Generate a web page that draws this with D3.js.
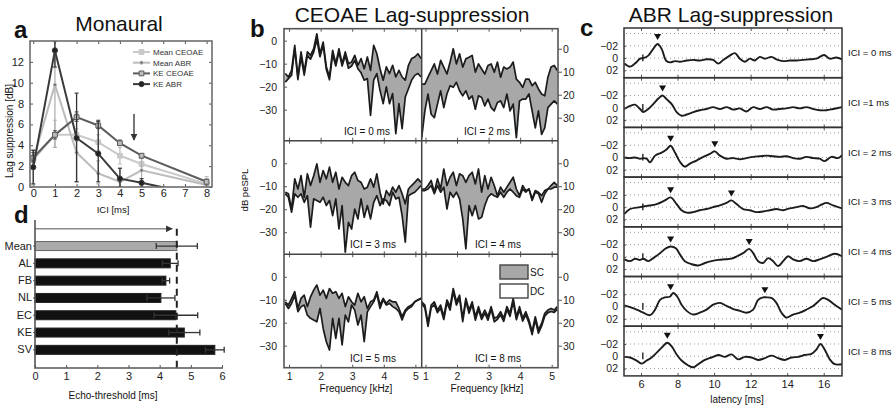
<!DOCTYPE html>
<html lang="en">
<head>
<meta charset="utf-8">
<title>Lag suppression</title>
<script src="https://d3js.org/d3.v7.min.js"></script>
<style>
body { margin: 0; background: #ffffff; }
svg { display: block; }
</style>
</head>
<body>
<div id="container"></div>
<script>
// ---------------- data: panel a (Monaural) ----------------
var iciMs = [0, 1, 2, 3, 4, 5, 8];
var meanCeoae   = [2.6, 5.0, 5.0, 4.3, 3.0, 2.2, 0.3];
var meanCeoaeLo = [2.0, 3.8, 4.4, 3.5, 2.2, 1.5, 0.0];
var meanCeoaeHi = [3.6, 6.4, 5.6, 5.0, 3.8, 2.8, 1.0];
var meanAbr     = [2.6, 9.8, 3.3, 1.3, 0.5, 1.6, 0.2];
var meanAbrLo   = [0.2, 3.8, 0.5, 0.3, 0.0, 0.3, 0.0];
var meanAbrHi   = [3.6, 14.0, 7.0, 2.5, 1.8, 2.8, 0.8];
var keCeoae     = [2.8, 5.0, 6.7, 5.9, 4.2, 3.0, 0.5];
var keCeoaeLo   = [2.4, 4.6, 6.3, 5.6, 4.0, 2.8, 0.3];
var keCeoaeHi   = [3.3, 5.4, 7.2, 6.4, 4.5, 3.2, 0.7];
var keAbr       = [1.9, 13.1, 4.7, 3.2, 0.8, 0.4, -0.9];
var keAbrLo     = [0.3, 11.5, 0.5, 0.5, 0.0, 0.0, null];
var keAbrHi     = [3.5, 14.0, 9.0, 6.3, 1.8, 0.8, null];
var arrowIci = 4.65, arrowFrom = 7.0, arrowTo = 4.5;

// ---------------- data: panel d (echo threshold) ----------------
var subjects = ["Mean", "AL", "FB", "NL", "EC", "KE", "SV"];
var echoThreshold = [4.55, 4.34, 4.2, 4.04, 4.52, 4.79, 5.77];
var echoErr       = [0.66, 0.25, 0.12, 0.45, 0.7, 0.5, 0.3];
var echoArrowEnd = 4.4;

// ---------------- data: panel b (CEOAE, dB peSPL) ----------------
var ceoaeFreq = [0.88,0.98,1.08,1.18,1.28,1.38,1.48,1.58,1.68,1.78,1.88,1.98,2.08,2.18,2.28,2.38,2.48,2.58,2.68,2.78,2.88,2.98,
                 3.08,3.18,3.28,3.38,3.48,3.58,3.68,3.78,3.88,3.98,4.08,4.18,4.28,4.38,4.48,4.58,4.68,4.78,4.88,4.98,5.08,5.18];
var scIci0 = [-14.3,-15.8,-12.9,-2,-15.8,-4.9,-13.6,-4.9,-6.4,-3.5,3,-5.7,-0.6,-11.4,-15.8,-4.2,-10,-3.5,-10,-4.9,-10,-9.3,
              -6.4,-10.7,-7.8,-12.2,-7.1,-12.9,-2,-5.7,-12.2,-17.2,-11.4,-14.3,-10.7,-15.8,-12.9,-15.8,-17.2,-10.7,-7.8,-7.1,-5.7,-7.8];
var dcIci0 = [-18,-16.5,-15,-3.5,-17,-7,-15,-6.5,-8,-5,0.5,-7,-2,-12.5,-17,-6,-11,-5,-11,-6.5,-12,-11,
              -8.6,-12.2,-14,-17.2,-16.5,-32.5,-17.2,-14.3,-21.6,-27.4,-20.1,-27.4,-23,-40.4,-27.4,-38.3,-24.5,-20.9,-17.2,-15.1,-14.3,-15.8];
var scIci2 = [-15.4,-15.4,-12.4,-9.5,-6.6,-11,-5.1,-8,-11,-5.8,0,-6.6,-2.2,-8,-4.4,-3.7,-2.9,-10.2,-6.6,-8.8,-11,-7.3,
              -6.6,-10.2,-5.8,-12.4,-8,-8.8,-8,-5.8,-13.2,-14.6,-16.8,-13.2,-13.2,-16.1,-14.6,-17.5,-19.7,-20.5,-12.4,-8,-7.3,-9.5];
var dcIci2 = [-38.7,-27,-19.7,-28.5,-30,-24.1,-18.3,-25.6,-19.7,-16.1,-16.8,-14.6,-18.3,-20.5,-18.3,-21.9,-20.5,-26.3,-20.5,-21.2,-24.9,-21.9,
              -25.6,-27,-23.4,-22.7,-25.6,-19.7,-27,-24.1,-38.7,-22.7,-21.9,-21.9,-19.7,-27,-34.4,-27,-37.3,-34.4,-25.6,-24.1,-22.7,-24.1];
var scIci3 = [-12.6,-13.3,-19.9,-6.8,-11.2,-5.4,-14.8,-4.6,-9.7,-5.4,-0.3,-8.3,-3.2,-6.8,-1.7,-8.3,-3.9,-11.2,-6.1,-8.3,-9.7,-5.4,
              -3.9,-7.5,-8.3,-11.2,-10.4,-6.8,-10.4,-4.6,-12.6,-17.7,-11.9,-14.1,-10.4,-12.6,-9.7,-13.3,-17.7,-11.2,-9.7,-8.3,-6.8,-8.3];
var dcIci3 = [-13.3,-14.8,-21.3,-13.3,-14.8,-13.3,-17,-14.1,-27.8,-15.5,-16.2,-17,-14.8,-18.4,-16.2,-22.8,-15.5,-28.6,-18.4,-38.7,-25.7,-28.6,
              -19.9,-24.2,-15.5,-23.5,-18.4,-24.2,-17,-14.1,-18.4,-15.5,-16.2,-18.4,-12.6,-15.5,-14.8,-22.8,-34.3,-14.1,-13.3,-12.6,-11.2,-9.7];
var scIci4 = [-11.2,-11.2,-9.7,-7.5,-12.6,-6.8,-11.2,-2.5,-9.7,-6.1,-3.9,-9.7,-4.6,-5.4,-8.3,-5.4,-3.9,-9,-2.5,-12.6,-5.4,-11.2,
              -6.1,-9.7,-14.1,-10.4,-12.6,-10.4,-8.3,-6.1,-11.2,-14.1,-9.7,-11.9,-11.2,-15.5,-11.9,-12.6,-14.1,-11.9,-11.2,-9.7,-8.3,-9.7];
var dcIci4 = [-11.9,-11.9,-11.2,-9.7,-13.3,-9.7,-12.6,-10.4,-19.9,-12.6,-14.8,-12.6,-15.5,-24.2,-37.2,-18.4,-22.8,-18.4,-24.2,-23.5,-18.4,-14.8,
              -13.3,-14.1,-14.8,-12.6,-14.8,-12.6,-11.2,-12.6,-14.1,-14.8,-11.2,-12.6,-11.2,-16.2,-12.6,-13.3,-17,-13.3,-11.2,-11.2,-10.4,-10.4];
var scIci5 = [-10.9,-12.3,-9.4,-6.5,-13.8,-9.4,-8,-13,-8.7,-5.8,-3.6,-8,-5.8,-9.4,-5.1,-7.2,-6.5,-9.4,-7.2,-13,-8.7,-10.9,
              -12.3,-7.2,-10.9,-8.7,-13.8,-10.9,-10.1,-6.5,-12.3,-9.4,-11.6,-10.1,-10.9,-10.9,-13.8,-17.4,-14.5,-13,-12.3,-10.9,-10.1,-9.4];
var dcIci5 = [-11.6,-13.8,-11.6,-8,-15.2,-13,-12.3,-16.7,-18.1,-18.8,-19.6,-13.8,-22.5,-28.3,-31.9,-18.1,-26.8,-18.1,-29.7,-16.7,-19.6,-12.3,
              -14.5,-21,-16.7,-28.3,-15.2,-13,-10.9,-7.5,-13.8,-10,-12.3,-11.6,-13,-13.8,-15.2,-18.8,-15.2,-13.8,-13,-10.9,-10.1,-9.4];
var scIci8 = [-10.9,-12.3,-20.3,-12.3,-10.9,-14.5,-12.3,-17.4,-10.1,-13,-5.1,-10.9,-8,-18.1,-9.4,-14.5,-10.9,-17.4,-13,-17.4,-14.5,-17.4,
              -13,-18.1,-17.4,-15.2,-18.1,-13,-15.9,-9.4,-17.4,-13,-18.1,-15.2,-18.8,-23.9,-17.4,-23.2,-20.3,-15.9,-14.5,-13.8,-14.5,-13];
var dcIci8 = [-11.8,-13.5,-21.6,-13.4,-12.2,-15.6,-13.7,-18.6,-11.3,-14.5,-6.4,-12.3,-9.2,-19.5,-10.6,-15.9,-12.1,-18.9,-14.2,-18.6,-15.8,-18.9,
              -14.1,-19.6,-18.5,-16.6,-19.4,-14.3,-17.2,-10.8,-18.7,-14.4,-19.3,-16.5,-20.1,-25.2,-18.6,-24.6,-21.5,-17.2,-15.6,-15.1,-15.5,-14.2];

// ---------------- data: panel c (ABR, [latency ms, amplitude]) ----------------
var abrIci0 = [[5.09,0.09],[5.40,0.14],[5.67,0.09],[5.95,0.01],[6.13,0.0],[6.40,-0.04],[6.67,-0.15],[6.91,-0.23],[7.13,-0.15],[7.37,0.04],
  [7.58,0.07],[7.86,0.05],[8.13,0.06],[8.50,0.04],[8.86,0.03],[9.22,0.04],[9.59,0.02],[9.95,0.03],[10.23,0.09],[10.50,0.03],[10.86,-0.04],
  [11.14,-0.08],[11.41,0.01],[11.68,0.06],[11.96,0.01],[12.23,0.04],[12.50,-0.02],[12.78,0.01],[13.14,-0.02],[13.41,0.02],[13.78,0.05],
  [14.14,0.04],[14.51,0.04],[14.87,0.03],[15.24,0.02],[15.60,0.01],[16.02,-0.05],[16.33,0.01],[16.69,-0.01],[17.0,0.02]];
var abrIci1 = [[5.09,0.02],[5.40,-0.03],[5.67,-0.05],[5.95,0.02],[6.13,0.07],[6.40,0.02],[6.67,-0.06],[6.95,-0.15],[7.18,-0.2],[7.40,-0.14],
  [7.68,-0.06],[7.95,0.07],[8.22,0.13],[8.50,0.11],[8.86,0.07],[9.22,0.04],[9.59,0.02],[9.95,-0.01],[10.32,0.02],[10.68,-0.01],[11.05,0.03],
  [11.41,0.01],[11.77,0.06],[12.14,-0.01],[12.50,0.02],[12.87,-0.01],[13.23,0.03],[13.60,0.02],[13.96,0.01],[14.32,-0.01],[14.69,0.01],
  [15.05,-0.01],[15.42,0.02],[15.78,0.04],[16.15,0.04],[16.51,0.02],[17.0,-0.01]];
var abrIci2 = [[5.09,0],[5.40,0.01],[5.67,0],[5.95,0.02],[6.13,0.01],[6.31,0.02],[6.49,0.08],[6.77,-0.03],[7.13,-0.08],[7.40,-0.13],
  [7.62,-0.19],[7.86,-0.08],[8.13,0.07],[8.40,0.15],[8.68,0.10],[9.04,0.05],[9.41,-0.01],[9.77,-0.06],[10.04,-0.10],[10.32,-0.03],[10.68,0.02],
  [11.05,0.01],[11.41,0.03],[11.77,0.01],[12.14,-0.01],[12.50,-0.02],[12.87,-0.03],[13.23,-0.02],[13.60,-0.01],[13.96,-0.02],[14.32,0.01],
  [14.69,0.02],[15.05,-0.01],[15.42,0.01],[15.78,0.02],[16.05,0.06],[16.42,-0.01],[16.78,0.01],[17.0,-0.04]];
var abrIci3 = [[5.09,0.11],[5.40,0.03],[5.95,0],[6.31,-0.02],[6.86,-0.05],[7.31,-0.11],[7.62,-0.16],[7.95,-0.05],[8.22,0.05],[8.50,0.09],
  [8.86,0.08],[9.22,0.05],[9.59,0.03],[9.95,0],[10.32,-0.03],[10.68,-0.07],[10.95,-0.11],[11.23,-0.05],[11.59,0.03],[11.96,0.05],[12.32,0.08],
  [12.68,0.07],[13.05,0.05],[13.41,0.03],[13.78,0.05],[14.14,0.02],[14.51,0],[14.87,-0.02],[15.24,0.02],[15.60,0],[15.87,-0.04],[16.15,-0.07],
  [16.51,-0.03],[17.0,0.02]];
var abrIci4 = [[5.09,0.04],[5.40,0.07],[5.67,0.03],[5.95,0.05],[6.13,0.03],[6.40,0.07],[6.67,0.02],[7.04,-0.06],[7.37,-0.14],[7.62,-0.17],
  [7.91,-0.14],[8.13,-0.04],[8.40,0.07],[8.77,0.12],[9.13,0.14],[9.50,0.10],[9.86,0.07],[10.23,0.05],[10.59,0.04],[10.95,0.03],[11.32,-0.02],
  [11.59,-0.06],[11.92,-0.13],[12.14,-0.06],[12.41,0.07],[12.68,0.10],[12.96,0.02],[13.23,0.07],[13.50,0.15],[13.78,0.07],[14.05,-0.01],
  [14.32,0.04],[14.69,0.07],[15.05,0.03],[15.42,0.07],[15.78,0.04],[16.15,0],[16.60,-0.05],[17.0,-0.01]];
var abrIci5 = [[5.09,-0.02],[5.40,0.01],[5.76,0.05],[6.13,0.10],[6.49,0.14],[6.77,0.05],[7.04,-0.11],[7.31,-0.15],[7.58,-0.16],[7.77,-0.22],
  [7.99,-0.16],[8.22,-0.03],[8.50,0.07],[8.86,0.13],[9.22,0.10],[9.59,0.05],[9.95,-0.03],[10.32,-0.06],[10.68,-0.01],[11.05,0.04],[11.41,0.07],
  [11.77,0.10],[12.14,0.05],[12.41,-0.11],[12.68,-0.15],[12.87,-0.15],[13.14,-0.14],[13.41,-0.06],[13.69,0.10],[13.96,0.18],[14.32,0.13],
  [14.69,0.10],[15.05,0.05],[15.42,-0.01],[15.69,-0.08],[15.96,-0.14],[16.24,-0.11],[16.60,-0.03],[17.0,0.05]];
var abrIci8 = [[5.09,0.01],[5.40,0.02],[5.76,0.07],[6.04,0.12],[6.31,0.07],[6.58,0.02],[6.86,-0.06],[7.13,-0.14],[7.44,-0.22],[7.68,-0.16],
  [7.95,-0.03],[8.22,0.07],[8.59,0.15],[8.86,0.18],[9.13,0.13],[9.50,0.06],[9.86,0.02],[10.23,-0.02],[10.59,0.01],[10.95,-0.03],[11.32,0.05],
  [11.68,0.01],[12.05,0.02],[12.41,0.06],[12.78,0.03],[13.14,-0.01],[13.50,0.03],[13.87,0.06],[14.23,0.02],[14.60,0.01],[14.96,-0.02],
  [15.33,-0.04],[15.60,-0.11],[15.82,-0.2],[16.05,-0.11],[16.33,0.05],[16.60,0.13],[17.0,0.13]];
var abrPeaks = [[[6.91,-0.23]], [[7.18,-0.2]], [[7.62,-0.19],[10.04,-0.1]], [[7.62,-0.16],[10.95,-0.11]],
                [[7.62,-0.17],[11.92,-0.13]], [[7.62,-0.2],[12.78,-0.15]], [[7.44,-0.22],[15.82,-0.2]]];
var abrLabels = ["ICI = 0 ms", "ICI =1 ms", "ICI = 2 ms", "ICI = 3 ms", "ICI = 4 ms", "ICI = 5 ms", "ICI = 8 ms"];
var abrClickLatency = 6.1;

// ---------------- drawing ----------------
var FONT = "'Liberation Sans', Arial, Helvetica, sans-serif";
var INK = "#222";
var svg = d3.select("#container").append("svg")
    .attr("width", 893).attr("height", 406)
    .attr("font-family", FONT)
    .style("background-color", "#ffffff");
var defs = svg.append("defs");
defs.append("marker").attr("id", "arrowHead")
    .attr("viewBox", "0 0 10 10").attr("refX", 9).attr("refY", 5)
    .attr("markerWidth", 4.5).attr("markerHeight", 4.5).attr("orient", "auto")
    .append("path").attr("d", "M0,0L10,5L0,10z").attr("fill", "#333");

function addClip(id, x, y, w, h) {
    defs.append("clipPath").attr("id", id).append("rect")
        .attr("x", x).attr("y", y).attr("width", w).attr("height", h);
    return "url(#" + id + ")";
}
function styleAxis(g, size) {
    g.attr("font-family", FONT).attr("font-size", size);
    g.select(".domain").remove();
    g.selectAll(".tick line").attr("stroke", "#555");
    g.selectAll(".tick text").attr("fill", INK);
}
function text(x, y, s, size, anchor, weight) {
    return svg.append("text").attr("x", x).attr("y", y).text(s)
        .attr("font-size", size).attr("text-anchor", anchor || "middle")
        .attr("font-weight", weight || "normal").attr("fill", "#111");
}

// titles and panel letters
text(119, 31, "Monaural", 21);
text(412, 22, "CEOAE Lag-suppression", 21);
text(731, 22, "ABR Lag-suppression", 21);
text(14, 38, "a", 24, "start", "bold");
text(250, 37, "b", 24, "start", "bold");
text(580, 36, "c", 24, "start", "bold");
text(14, 223, "d", 24, "start", "bold");

// ======== panel a ========
var ax = d3.scaleLinear().domain([-0.15, 8.25]).range([30, 212]);
var ay = d3.scaleLinear().domain([0, 14]).range([187, 41]);
var ga = svg.append("g");
var clipA = addClip("clipA", 30, 41, 182, 146);

ga.append("g").attr("transform", "translate(0,187)")
    .call(d3.axisBottom(ax).tickValues(d3.range(0, 9)).tickSizeInner(-3).tickSizeOuter(0).tickPadding(2))
    .call(styleAxis, 11);
ga.append("g").attr("transform", "translate(0,41)")
    .call(d3.axisTop(ax).tickValues(d3.range(0, 9)).tickSizeInner(-3).tickSizeOuter(0).tickFormat(""))
    .call(styleAxis, 11);
ga.append("g").attr("transform", "translate(30,0)")
    .call(d3.axisLeft(ay).tickValues(d3.range(0, 13, 2)).tickSizeInner(-3).tickSizeOuter(0).tickPadding(6))
    .call(styleAxis, 11);
ga.append("g").attr("transform", "translate(212,0)")
    .call(d3.axisRight(ay).tickValues(d3.range(0, 13, 2)).tickSizeInner(-3).tickSizeOuter(0).tickFormat(""))
    .call(styleAxis, 11);

var aSeries = [
    {name: "Mean CEOAE", v: meanCeoae, lo: meanCeoaeLo, hi: meanCeoaeHi, stroke: "#c9c9c9", err: "#c0c0c0", mark: "square", mfill: "#c9c9c9", r: 2.4},
    {name: "Mean ABR",   v: meanAbr,   lo: meanAbrLo,   hi: meanAbrHi,   stroke: "#bcbcbc", err: "#b0b0b0", mark: "circle", mfill: "#666", r: 1.6},
    {name: "KE CEOAE",   v: keCeoae,   lo: keCeoaeLo,   hi: keCeoaeHi,   stroke: "#5c5c5c", err: "#555",    mark: "square", mfill: "#bbb", r: 2.4},
    {name: "KE ABR",     v: keAbr,     lo: keAbrLo,     hi: keAbrHi,     stroke: "#3a3a3a", err: "#333",    mark: "circle", mfill: "#222", r: 2.6}
];
var plotA = ga.append("g").attr("clip-path", clipA);
aSeries.forEach(function(s) {
    var sg = plotA.append("g");
    iciMs.forEach(function(t, i) {
        if (s.lo[i] === null) return;
        sg.append("line").attr("x1", ax(t)).attr("x2", ax(t)).attr("y1", ay(s.lo[i])).attr("y2", ay(s.hi[i]))
            .attr("stroke", s.err).attr("stroke-width", 1.3);
        [s.lo[i], s.hi[i]].forEach(function(e) {
            sg.append("line").attr("x1", ax(t) - 2).attr("x2", ax(t) + 2).attr("y1", ay(e)).attr("y2", ay(e))
                .attr("stroke", s.err).attr("stroke-width", 1.1);
        });
    });
    sg.append("path").datum(s.v)
        .attr("d", d3.line().x(function(d, i) { return ax(iciMs[i]); }).y(function(d) { return ay(d); }))
        .attr("fill", "none").attr("stroke", s.stroke).attr("stroke-width", 2);
    sg.selectAll(".m").data(s.v).enter().append("path")
        .attr("transform", function(d, i) { return "translate(" + ax(iciMs[i]) + "," + ay(d) + ")"; })
        .attr("d", function() {
            var sym = s.mark === "square" ? d3.symbolSquare : d3.symbolCircle;
            return d3.symbol().type(sym).size(s.mark === "square" ? s.r * s.r * 4 : Math.PI * s.r * s.r)();
        })
        .attr("fill", s.mfill).attr("stroke", s.stroke).attr("stroke-width", 1);
});
ga.append("line").attr("x1", ax(arrowIci)).attr("x2", ax(arrowIci))
    .attr("y1", ay(arrowFrom)).attr("y2", ay(arrowTo))
    .attr("stroke", "#555").attr("stroke-width", 1.6).attr("marker-end", "url(#arrowHead)");
ga.append("rect").attr("x", 30).attr("y", 41).attr("width", 182).attr("height", 146)
    .attr("fill", "none").attr("stroke", "#6e6e6e").attr("stroke-width", 1.6);

// legend
aSeries.forEach(function(s, i) {
    var ly = 52 + i * 10.7;
    ga.append("line").attr("x1", 133).attr("x2", 150).attr("y1", ly).attr("y2", ly)
        .attr("stroke", s.stroke).attr("stroke-width", 2);
    ga.append("path").attr("transform", "translate(141.5," + ly + ")")
        .attr("d", d3.symbol().type(s.mark === "square" ? d3.symbolSquare : d3.symbolCircle)
            .size(s.mark === "square" ? s.r * s.r * 4 : Math.PI * s.r * s.r)())
        .attr("fill", s.mfill).attr("stroke", s.stroke);
    ga.append("text").attr("x", 153).attr("y", ly + 3).text(s.name)
        .attr("font-size", 8).attr("fill", "#333");
});
text(113, 213, "ICI [ms]", 9.5);
text(0, 0, "Lag suppression [dB]", 10).attr("transform", "translate(13,131) rotate(-90)");

// ======== panel d ========
var dx = d3.scaleLinear().domain([0, 6]).range([35, 222]);
var dy = d3.scaleBand().domain(subjects).range([237.4, 358.5]).paddingInner(0.48).paddingOuter(0.24);
var gd = svg.append("g");
gd.append("g").attr("transform", "translate(0,368)")
    .call(d3.axisBottom(dx).ticks(6).tickSizeInner(-3).tickSizeOuter(0).tickPadding(4))
    .call(styleAxis, 11);
gd.append("g").attr("transform", "translate(35,0)")
    .call(d3.axisLeft(dy).tickSizeInner(2).tickSizeOuter(0).tickPadding(1))
    .call(styleAxis, 11);
gd.selectAll("rect.bar").data(subjects).enter().append("rect")
    .attr("x", dx(0)).attr("y", function(d) { return dy(d); })
    .attr("width", function(d, i) { return dx(echoThreshold[i]) - dx(0); })
    .attr("height", dy.bandwidth())
    .attr("fill", function(d) { return d === "Mean" ? "#ababab" : "#111"; })
    .attr("stroke", function(d) { return d === "Mean" ? "#666" : "#222"; });
subjects.forEach(function(d, i) {
    var cyy = dy(d) + dy.bandwidth() / 2;
    var lo = echoThreshold[i] - echoErr[i], hi = echoThreshold[i] + echoErr[i];
    gd.append("line").attr("x1", dx(lo)).attr("x2", dx(hi)).attr("y1", cyy).attr("y2", cyy)
        .attr("stroke", "#333").attr("stroke-width", 1.3);
    [lo, hi].forEach(function(e) {
        gd.append("line").attr("x1", dx(e)).attr("x2", dx(e)).attr("y1", cyy - 3).attr("y2", cyy + 3)
            .attr("stroke", "#333").attr("stroke-width", 1.3);
    });
});
var arrowY = dy("Mean") + dy.bandwidth() / 2 - dy.step();
gd.append("line").attr("x1", dx(0)).attr("x2", dx(echoArrowEnd)).attr("y1", arrowY).attr("y2", arrowY)
    .attr("stroke", "#8a8a8a").attr("stroke-width", 1.5).attr("marker-end", "url(#arrowHead)");
gd.append("line").attr("x1", dx(echoThreshold[0])).attr("x2", dx(echoThreshold[0]))
    .attr("y1", arrowY).attr("y2", 368)
    .attr("stroke", "#222").attr("stroke-width", 2).attr("stroke-dasharray", "7,5");
gd.append("path").attr("d", "M35,220V368H223").attr("fill", "none").attr("stroke", "#555").attr("stroke-width", 1.6);
text(113, 399, "Echo-threshold [ms]", 10);

// ======== panel b ========
var bCols = [{x0: 284, x1: 421.7, dom: [0.84, 5.2]}, {x0: 421.7, x1: 558, dom: [0.88, 5.2]}];
var bRows = [[28.7, 140.7], [140.7, 254.3], [254.3, 367.7]];
var bPanels = [
    {label: "ICI = 0 ms", sc: scIci0, dc: dcIci0, col: 0, row: 0, yDom: [-43.5, 5.2], lx: 367},
    {label: "ICI = 2 ms", sc: scIci2, dc: dcIci2, col: 1, row: 0, yDom: [-40, 8.7], lx: 487},
    {label: "ICI = 3 ms", sc: scIci3, dc: dcIci3, col: 0, row: 1, yDom: [-39.6, 9.8], lx: 373},
    {label: "ICI = 4 ms", sc: scIci4, dc: dcIci4, col: 1, row: 1, yDom: [-39.6, 9.8], lx: 498},
    {label: "ICI = 5 ms", sc: scIci5, dc: dcIci5, col: 0, row: 2, yDom: [-39.6, 9.8], lx: 373},
    {label: "ICI = 8 ms", sc: scIci8, dc: dcIci8, col: 1, row: 2, yDom: [-39.6, 9.8], lx: 498}
];
var gb = svg.append("g");
bPanels.forEach(function(p, n) {
    var c = bCols[p.col], r = bRows[p.row];
    var x = d3.scaleLinear().domain(c.dom).range([c.x0, c.x1]);
    var y = d3.scaleLinear().domain(p.yDom).range([r[1], r[0]]);
    var g = gb.append("g");
    var clip = addClip("clipB" + n, c.x0, r[0], c.x1 - c.x0, r[1] - r[0]);
    var pg = g.append("g").attr("clip-path", clip);
    pg.append("path").datum(p.sc)
        .attr("d", d3.area().x(function(d, i) { return x(ceoaeFreq[i]); })
            .y0(function(d, i) { return y(p.dc[i]); }).y1(function(d) { return y(d); }))
        .attr("fill", "#a8a8a8");
    [p.sc, p.dc].forEach(function(s) {
        pg.append("path").datum(s)
            .attr("d", d3.line().x(function(d, i) { return x(ceoaeFreq[i]); }).y(function(d) { return y(d); }))
            .attr("fill", "none").attr("stroke", "#1c1c1c").attr("stroke-width", 1.7).attr("stroke-linejoin", "round");
    });
    g.append("g").attr("transform", "translate(0," + r[1] + ")")
        .call(d3.axisBottom(x).tickValues([1, 2, 3, 4, 5]).tickSizeInner(-3).tickSizeOuter(0).tickPadding(5)
            .tickFormat(p.row === 2 ? d3.format("d") : ""))
        .call(styleAxis, 10.5);
    g.append("g").attr("transform", "translate(0," + r[0] + ")")
        .call(d3.axisTop(x).tickValues([1, 2, 3, 4, 5]).tickSizeInner(-3).tickSizeOuter(0).tickFormat(""))
        .call(styleAxis, 10);
    if (p.col === 0) {
        g.append("g").attr("transform", "translate(" + c.x0 + ",0)")
            .call(d3.axisLeft(y).tickValues([0, -10, -20, -30]).tickSizeInner(-3).tickSizeOuter(0).tickPadding(7))
            .call(styleAxis, 10.5);
    } else {
        g.append("g").attr("transform", "translate(" + c.x1 + ",0)")
            .call(d3.axisRight(y).tickValues([0, -10, -20, -30]).tickSizeInner(4).tickSizeOuter(0).tickPadding(1)
                .tickFormat(function(d) { return Math.abs(d); }))
            .call(styleAxis, 10.5);
    }
    g.append("text").attr("x", p.lx).attr("y", r[1] - 6).text(p.label)
        .attr("font-size", 10).attr("text-anchor", "middle").attr("fill", "#111");
});
gb.append("rect").attr("x", 284).attr("y", 28.7).attr("width", 274).attr("height", 339)
    .attr("fill", "none").attr("stroke", "#555").attr("stroke-width", 1.6);
gb.append("path").attr("d", "M421.7,28.7V367.7M284,140.7H558M284,254.3H558")
    .attr("fill", "none").attr("stroke", "#444").attr("stroke-width", 1.5);
// SC / DC legend
gb.append("rect").attr("x", 500).attr("y", 265).attr("width", 28).attr("height", 14)
    .attr("fill", "#a8a8a8").attr("stroke", "#444").attr("stroke-width", 1.4);
gb.append("rect").attr("x", 500).attr("y", 284).attr("width", 28).attr("height", 14)
    .attr("fill", "#ffffff").attr("stroke", "#444").attr("stroke-width", 1.4);
text(530, 276, "SC", 10, "start");
text(530, 295, "DC", 10, "start");
text(356, 392, "Frequency [kHz]", 10);
text(487, 392, "Frequency [kHz]", 10);
text(0, 0, "dB peSPL", 9.5).attr("transform", "translate(248,190) rotate(-90)");

// ======== panel c ========
var cx = d3.scaleLinear().domain([5.07, 17]).range([624, 842]);
var cTop = 28, cRowH = 49.7;
var abrTraces = [abrIci0, abrIci1, abrIci2, abrIci3, abrIci4, abrIci5, abrIci8];
var gc = svg.append("g");
abrTraces.forEach(function(tr, i) {
    var top = cTop + i * cRowH;
    var y = d3.scaleLinear().domain([-0.49, 0.32]).range([top, top + cRowH]);
    var g = gc.append("g");
    var clip = addClip("clipC" + i, 624, top, 218, cRowH);
    [-0.4, -0.2, 0, 0.2].forEach(function(v) {
        g.append("line").attr("x1", 626).attr("x2", 840).attr("y1", y(v)).attr("y2", y(v))
            .attr("stroke", "#9a9a9a").attr("stroke-width", 1).attr("stroke-dasharray", "1,3");
    });
    g.append("line").attr("x1", cx(abrClickLatency)).attr("x2", cx(abrClickLatency))
        .attr("y1", y(-0.06)).attr("y2", y(0.05)).attr("stroke", "#333").attr("stroke-width", 1.5);
    g.append("path").datum(tr).attr("clip-path", clip)
        .attr("d", d3.line().curve(d3.curveCatmullRom).x(function(d) { return cx(d[0]); }).y(function(d) { return y(d[1]); }))
        .attr("fill", "none").attr("stroke", "#1c1c1c").attr("stroke-width", 1.9);
    g.selectAll(".pk").data(abrPeaks[i]).enter().append("path")
        .attr("transform", function(d) { return "translate(" + cx(d[0]) + "," + (y(d[1]) - 7) + ")"; })
        .attr("d", "M-3.5,-3L3.5,-3L0,3Z").attr("fill", "#111");
    g.append("g").attr("transform", "translate(0," + top + ")")
        .call(d3.axisTop(cx).tickValues([6, 8, 10, 12, 14, 16]).tickSizeInner(-3).tickSizeOuter(0).tickFormat(""))
        .call(styleAxis, 10);
    g.append("g").attr("transform", "translate(0," + (top + cRowH) + ")")
        .call(d3.axisBottom(cx).tickValues([6, 8, 10, 12, 14, 16]).tickSizeInner(-3).tickSizeOuter(0).tickPadding(4)
            .tickFormat(i === abrTraces.length - 1 ? d3.format("d") : ""))
        .call(styleAxis, 11);
    g.append("g").attr("transform", "translate(624,0)")
        .call(d3.axisLeft(y).tickValues([-0.2, 0, 0.2]).tickSizeInner(-2).tickSizeOuter(0).tickPadding(6)
            .tickFormat(function(d) { return d === 0 ? "0" : (d < 0 ? "\u221202" : "02"); }))
        .call(styleAxis, 10.5);
    g.append("rect").attr("x", 624).attr("y", top).attr("width", 218).attr("height", cRowH)
        .attr("fill", "none").attr("stroke", "#333").attr("stroke-width", 1.5);
    g.append("text").attr("x", 848).attr("y", top + cRowH / 2 + 3.5).text(abrLabels[i])
        .attr("font-size", 9.5).attr("fill", "#111");
});
text(737, 403, "latency [ms]", 10);
</script>
</body>
</html>
